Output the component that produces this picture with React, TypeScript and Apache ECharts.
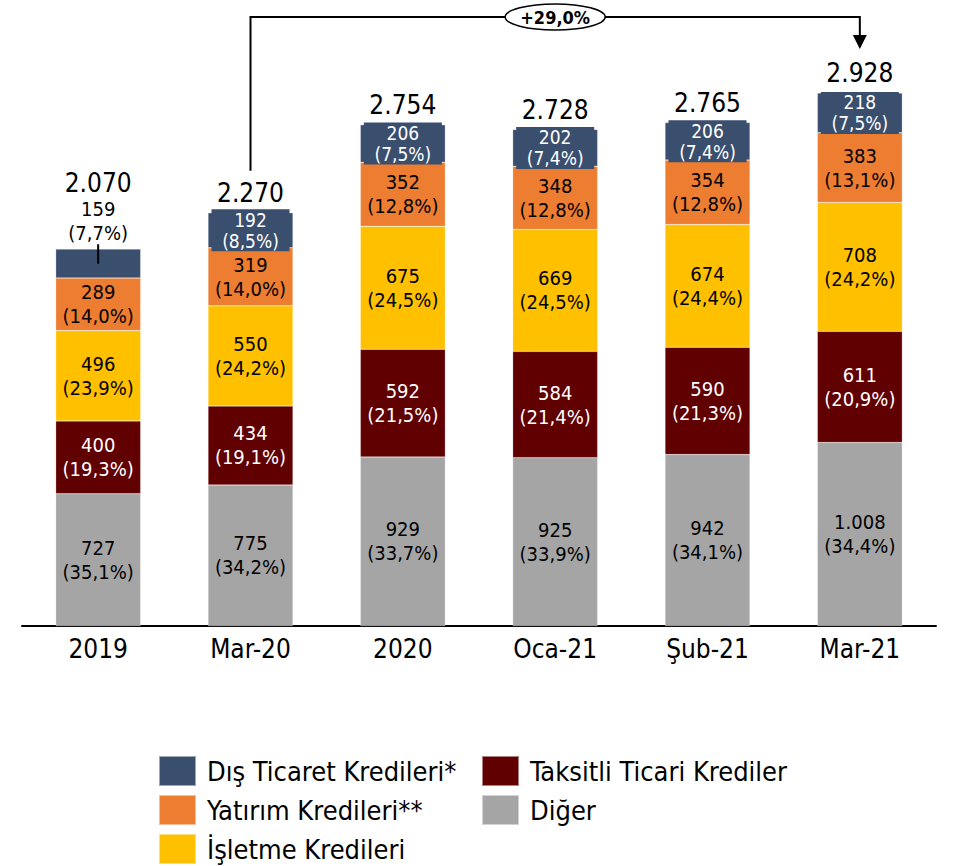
import React, { useEffect, useRef } from "react";
import * as echarts from "echarts";

const categories = ["2019", "Mar-20", "2020", "Oca-21", "Şub-21", "Mar-21"];

const seriesNames = [
  "Diğer",
  "Taksitli Ticari Krediler",
  "İşletme Kredileri",
  "Yatırım Kredileri**",
  "Dış Ticaret Kredileri*",
];

const digerValues = [727, 775, 929, 925, 942, 1008];
const digerPct = ["35,1", "34,2", "33,7", "33,9", "34,1", "34,4"];
const taksitliValues = [400, 434, 592, 584, 590, 611];
const taksitliPct = ["19,3", "19,1", "21,5", "21,4", "21,3", "20,9"];
const isletmeValues = [496, 550, 675, 669, 674, 708];
const isletmePct = ["23,9", "24,2", "24,5", "24,5", "24,4", "24,2"];
const yatirimValues = [289, 319, 352, 348, 354, 383];
const yatirimPct = ["14,0", "14,0", "12,8", "12,8", "12,8", "13,1"];
const disValues = [159, 192, 206, 202, 206, 218];
const disPct = ["7,7", "8,5", "7,5", "7,4", "7,4", "7,5"];
const totals = [2070, 2270, 2754, 2728, 2765, 2928];
const growthLabel = "+29,0%";

const colors = ["#A5A5A5", "#600000", "#FFC000", "#ED7D31", "#3A4E6E"];
const labelColors = ["#000", "#fff", "#000", "#000", "#fff"];

const FONT = "'DejaVu Sans Condensed', 'Liberation Sans Narrow', 'DejaVu Sans', sans-serif";

const fmt = (v: number) => v.toLocaleString("de-DE");

export default function App() {
  const ref = useRef<HTMLDivElement>(null);
  useEffect(() => {
    document.body.style.margin = "0";
    if (!ref.current) return;
    const chart = echarts.init(ref.current, null, { renderer: "svg" });
    const valueSets = [digerValues, taksitliValues, isletmeValues, yatirimValues, disValues];
    const pctSets = [digerPct, taksitliPct, isletmePct, yatirimPct, disPct];

    const barSeries = valueSets.map((vals, si) => ({
      name: seriesNames[si],
      type: "bar",
      stack: "total",
      barWidth: 85,
      itemStyle: { color: colors[si], borderColor: "rgba(255,255,255,0.5)", borderWidth: 0.5 },
      label: {
        show: true,
        position: "inside",
        color: labelColors[si],
        fontSize: si === 4 ? 19 : 20,
        lineHeight: si === 4 ? 21 : 24,
        fontFamily: FONT,
        ...(si === 4
          ? { backgroundColor: colors[4], width: 78, align: "center", padding: [0, 0, 0, 0] }
          : {}),
        formatter: (p: any) => `${fmt(vals[p.dataIndex])}\n(${pctSets[si][p.dataIndex]}%)`,
      },
      data: vals.map((v, i) => {
        if (si === 4 && i === 0) {
          return {
            value: v,
            label: {
              position: "top",
              color: "#000",
              distance: 4,
              fontSize: 20,
              lineHeight: 24,
              backgroundColor: "transparent",
            },
          };
        }
        return v;
      }),
    }));

    const legendPos = [
      { name: "Dış Ticaret Kredileri*", left: 158, top: 755 },
      { name: "Taksitli Ticari Krediler", left: 481, top: 755 },
      { name: "Yatırım Kredileri**", left: 158, top: 794 },
      { name: "Diğer", left: 481, top: 794 },
      { name: "İşletme Kredileri", left: 158, top: 833 },
    ];

    const option: any = {
      animation: false,
      textStyle: { fontFamily: FONT },
      grid: { left: 22, right: 18, top: 80, bottom: 240, containLabel: false },
      xAxis: {
        type: "category",
        data: categories,
        axisLine: { lineStyle: { color: "#000", width: 2 } },
        axisTick: { show: false },
        axisLabel: { color: "#000", fontSize: 26, fontFamily: FONT, margin: 10 },
      },
      yAxis: { type: "value", min: 0, max: 3000, show: false, splitLine: { show: false } },
      legend: legendPos.map((l) => ({
        data: [l.name],
        left: l.left,
        top: l.top,
        padding: 0,
        icon: "rect",
        itemWidth: 37,
        itemHeight: 30,
        selectedMode: false,
        textStyle: { fontSize: 27, color: "#000", fontFamily: FONT, padding: [0, 0, 0, 6] },
      })),
      series: [
        ...barSeries,
        {
          name: "total",
          type: "scatter",
          symbolSize: 0,
          silent: true,
          z: 5,
          itemStyle: { opacity: 1, color: "#000" },
          label: {
            show: true,
            position: "top",
            distance: 7,
            color: "#000",
            opacity: 1,
            fontSize: 26,
            fontFamily: FONT,
            formatter: (p: any) => fmt(totals[p.dataIndex]),
          },
          data: totals.map((t, i) =>
            i === 0 ? { value: [i, t], label: { offset: [0, -46] } } : { value: [i, t] }
          ),
        },
      ],
    };
    chart.setOption(option);

    const px = (i: number, v: number) =>
      chart.convertToPixel({ xAxisIndex: 0, yAxisIndex: 0 }, [i, v]) as number[];
    const p0 = px(0, totals[0]);
    const p0b = px(0, totals[0] - disValues[0] / 2);
    const pa = px(1, totals[1]);
    const pb = px(5, totals[5]);
    const lineY = 17;
    const startY = pa[1] - 42;
    const tipY = pb[1] - 44;
    const midX = (pa[0] + pb[0]) / 2;
    const lineStyle = { stroke: "#000", lineWidth: 2 };

    chart.setOption({
      graphic: [
        { type: "line", shape: { x1: p0[0], y1: p0[1] - 5, x2: p0[0], y2: p0b[1] }, style: lineStyle, z: 100 },
        {
          type: "polyline",
          shape: { points: [[pa[0], startY], [pa[0], lineY], [pb[0], lineY], [pb[0], tipY - 12]] },
          style: { stroke: "#000", lineWidth: 2, fill: null },
          z: 100,
        },
        {
          type: "polygon",
          shape: { points: [[pb[0] - 7, tipY - 14], [pb[0] + 7, tipY - 14], [pb[0], tipY]] },
          style: { fill: "#000" },
          z: 100,
        },
        {
          type: "ellipse",
          shape: { cx: midX, cy: lineY, rx: 50, ry: 13 },
          style: { fill: "#fff", stroke: "#000", lineWidth: 1.5 },
          z: 101,
        },
        {
          type: "text",
          x: midX,
          y: lineY,
          z: 102,
          style: {
            text: growthLabel,
            fontSize: 18,
            fontWeight: "bold",
            fontFamily: FONT,
            fill: "#000",
            align: "center",
            verticalAlign: "middle",
          },
        },
      ],
    });

    return () => chart.dispose();
  }, []);
  return <div ref={ref} style={{ width: 954, height: 866 }} />;
}
